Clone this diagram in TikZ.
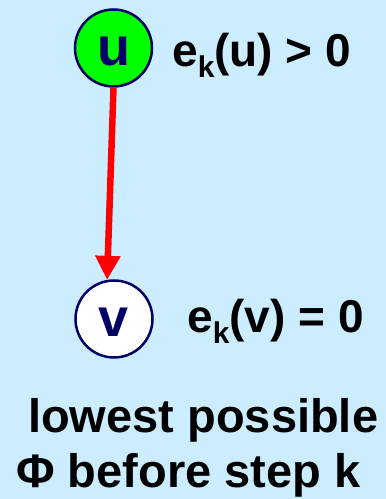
\documentclass[tikz,border=0pt]{standalone}
\usepackage{fontspec}
\setmainfont{Liberation Sans}
\usetikzlibrary{arrows.meta,positioning}

\definecolor{skyback}{HTML}{CCECFF}
\definecolor{navy}{HTML}{000066}
\definecolor{vgreen}{HTML}{00FF00}
\newcommand{\lowsub}[1]{\raisebox{-11pt}{\fontsize{30pt}{30pt}\selectfont #1}}

\begin{document}
\begin{tikzpicture}[x=1pt, y=1pt,
  vertex/.style={circle, draw=navy, line width=2.5pt, minimum size=77pt,
                 inner sep=0pt, text=navy, text height=36pt, text depth=0pt,
                 font=\fontsize{54pt}{54pt}\selectfont\bfseries},
  excess/.style={anchor=base west, inner sep=0pt,
                 font=\fontsize{46pt}{46pt}\selectfont\bfseries},
  caption/.style={anchor=base west, inner sep=0pt,
                  font=\fontsize{47pt}{47pt}\selectfont\bfseries}]

%% ---- Sfondo ----
\fill[skyback] (0,0) rectangle (386,499);
\useasboundingbox (0,0) rectangle (386,499);

%% ---- Nodi u e v ----
\node[vertex, fill=vgreen] (u) at (113.5,451) {u};
\node[vertex, fill=white]  (v) at (114,180)   {v};

%% ---- Eccessi ----
\node[excess] (eu) at (172,432) {e\lowsub{k}(u) > 0};
\node[excess] (ev) at (187,166) {e\lowsub{k}(v) = 0};

%% ---- Arco rosso ----
\draw[-{Triangle[width=24pt, length=24pt]}, line width=6.5pt, red]
    (u.south) -- (v.100);

%% ---- Didascalia ----
\node[caption] (cap1) at (28,66) {lowest possible};
\node[caption] (cap2) at (16,11) {Φ before step k};

\end{tikzpicture}
\end{document}
